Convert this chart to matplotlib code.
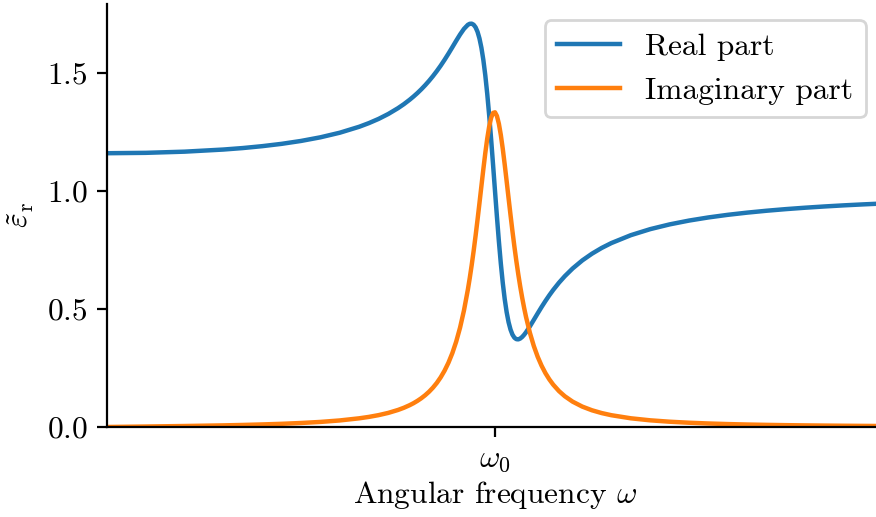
import numpy as np
import matplotlib
matplotlib.use("Agg")
import matplotlib.pyplot as plt

plt.rcParams.update({
    "font.family": "serif",
    "font.serif": ["cmr10"],
    "mathtext.fontset": "cm",
    "axes.formatter.use_mathtext": True,
    "font.size": 11.3,
})

# angular frequency in units of omega_0
omega = [0.0, 0.1, 0.2, 0.3, 0.35, 0.4, 0.45, 0.5, 0.55, 0.6, 0.65, 0.675,
         0.7, 0.725, 0.75, 0.765, 0.78, 0.79, 0.8, 0.81, 0.82, 0.83, 0.84,
         0.85, 0.86, 0.87, 0.88, 0.89, 0.9, 0.91, 0.92, 0.93, 0.935, 0.94,
         0.945, 0.95, 0.955, 0.96, 0.965, 0.97, 0.975, 0.98, 0.985, 0.99,
         0.995, 1.0, 1.005, 1.01, 1.015, 1.02, 1.025, 1.03, 1.035, 1.04,
         1.045, 1.05, 1.055, 1.06, 1.065, 1.07, 1.075, 1.08, 1.09, 1.1, 1.11,
         1.12, 1.13, 1.14, 1.15, 1.165, 1.18, 1.2, 1.225, 1.25, 1.275, 1.3,
         1.35, 1.4, 1.45, 1.5, 1.55, 1.6, 1.65, 1.7, 1.75, 1.8, 1.85, 1.9,
         1.95, 2.0]

eps_real = [1.1600, 1.1616, 1.1666, 1.1756, 1.1819, 1.1899, 1.1997, 1.2120,
            1.2274, 1.2469, 1.2721, 1.2876, 1.3054, 1.3263, 1.3509, 1.3677,
            1.3865, 1.4002, 1.4149, 1.4308, 1.4480, 1.4665, 1.4865, 1.5080,
            1.5310, 1.5557, 1.5818, 1.6089, 1.6365, 1.6631, 1.6868, 1.7040,
            1.7084, 1.7089, 1.7043, 1.6933, 1.6744, 1.6460, 1.6066, 1.5549,
            1.4899, 1.4115, 1.3206, 1.2194, 1.1112, 1.0000, 0.8905, 0.7869,
            0.6929, 0.6109, 0.5422, 0.4868, 0.4441, 0.4128, 0.3914, 0.3784,
            0.3722, 0.3713, 0.3748, 0.3815, 0.3906, 0.4015, 0.4266, 0.4539,
            0.4814, 0.5083, 0.5339, 0.5581, 0.5807, 0.6116, 0.6392, 0.6715,
            0.7058, 0.7344, 0.7587, 0.7794, 0.8127, 0.8383, 0.8584, 0.8746,
            0.8879, 0.8990, 0.9083, 0.9163, 0.9232, 0.9292, 0.9345, 0.9392,
            0.9433, 0.9470]

eps_imag = [0.0, 0.0020, 0.0042, 0.0069, 0.0087, 0.0109, 0.0135, 0.0170,
            0.0215, 0.0278, 0.0368, 0.0428, 0.0503, 0.0598, 0.0722, 0.0814,
            0.0924, 0.1009, 0.1107, 0.1218, 0.1346, 0.1494, 0.1666, 0.1867,
            0.2105, 0.2386, 0.2723, 0.3128, 0.3618, 0.4213, 0.4937, 0.5815,
            0.6319, 0.6869, 0.7465, 0.8106, 0.8785, 0.9492, 1.0214, 1.0928,
            1.1608, 1.2220, 1.2729, 1.3101, 1.3308, 1.3333, 1.3176, 1.2848,
            1.2374, 1.1788, 1.1124, 1.0416, 0.9694, 0.8981, 0.8293, 0.7642,
            0.7033, 0.6470, 0.5953, 0.5481, 0.5051, 0.4661, 0.3987, 0.3433,
            0.2976, 0.2598, 0.2282, 0.2018, 0.1794, 0.1520, 0.1302, 0.1075,
            0.0864, 0.0708, 0.0590, 0.0499, 0.0369, 0.0283, 0.0224, 0.0181,
            0.0149, 0.0124, 0.0105, 0.0090, 0.0078, 0.0068, 0.0060, 0.0053,
            0.0047, 0.0042]

fig = plt.figure(figsize=(4.38, 2.585), dpi=200)
ax = fig.add_axes([107 / 876, 90 / 517, 776 / 876, 423.5 / 517])

ax.plot(omega, eps_real, color="tab:blue", lw=1.6, label="Real part")
ax.plot(omega, eps_imag, color="tab:orange", lw=1.6, label="Imaginary part")

ax.set_xlim(0, 2)
ax.set_ylim(bottom=0)
ax.set_xticks([1.0])
ax.set_xticklabels([r"$\omega_0$"])
ax.set_yticks([0.0, 0.5, 1.0, 1.5])
ax.set_xlabel(r"Angular frequency $\omega$", labelpad=2)
ax.set_ylabel(r"$\tilde{\varepsilon}_{\mathrm{r}}$")
ax.spines["top"].set_visible(False)
ax.spines["right"].set_visible(False)
ax.legend(loc="upper right", bbox_to_anchor=(0.998, 0.997))

fig.savefig("out.png", dpi=200)
